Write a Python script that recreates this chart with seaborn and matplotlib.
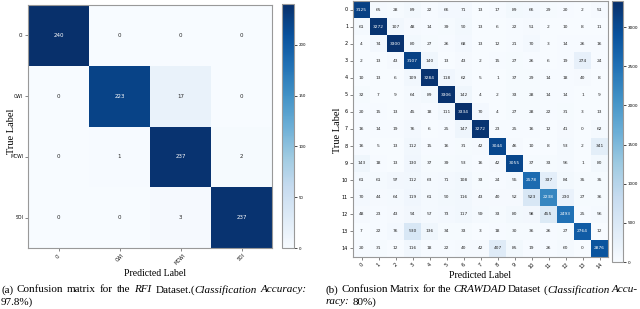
import numpy as np
import pandas as pd
import seaborn as sns
import matplotlib.pyplot as plt

# RFI dataset confusion matrix
rfi_labels = ['CI', 'CWI', 'MCWI', 'SOI']
rfi_cm = [
    [240, 0, 0, 0],
    [0, 223, 17, 0],
    [0, 1, 237, 2],
    [0, 0, 3, 237],
]

# CRAWDAD dataset confusion matrix
crawdad_labels = [str(i) for i in range(15)]
crawdad_cm = [
    [3125, 65, 28, 89, 22, 66, 71, 13, 17, 89, 66, 29, 20, 2, 51],
    [61, 3272, 107, 48, 14, 39, 90, 13, 6, 22, 51, 2, 10, 8, 11],
    [4, 74, 3300, 80, 27, 26, 68, 13, 12, 21, 70, 3, 14, 26, 16],
    [2, 13, 43, 3107, 140, 13, 43, 2, 15, 27, 26, 6, 19, 274, 24],
    [10, 13, 6, 109, 3284, 118, 62, 5, 1, 37, 29, 14, 18, 40, 8],
    [32, 7, 9, 64, 89, 3306, 142, 4, 2, 33, 28, 14, 14, 1, 9],
    [20, 15, 13, 45, 18, 111, 3334, 70, 4, 27, 28, 22, 31, 3, 13],
    [16, 14, 19, 76, 6, 25, 147, 3272, 23, 25, 16, 12, 41, 0, 62],
    [16, 5, 13, 112, 15, 16, 31, 42, 3044, 46, 10, 8, 53, 2, 341],
    [143, 18, 13, 130, 37, 39, 53, 16, 42, 3055, 37, 33, 56, 1, 80],
    [61, 61, 97, 112, 63, 71, 108, 33, 24, 55, 2578, 337, 84, 35, 35],
    [70, 44, 64, 119, 61, 90, 116, 43, 40, 52, 523, 2238, 230, 27, 36],
    [48, 23, 43, 94, 57, 73, 117, 59, 33, 80, 98, 455, 2493, 25, 56],
    [7, 22, 76, 530, 136, 34, 33, 3, 18, 30, 36, 26, 27, 2764, 12],
    [20, 31, 12, 116, 18, 22, 40, 42, 407, 85, 19, 26, 60, 0, 2876],
]

W, H = 640, 309
fig = plt.figure(figsize=(W / 100, H / 100), dpi=100)
SERIF = 'Liberation Serif'


def box(x0, y0, x1, y1):
    return [x0 / W, 1 - y1 / H, (x1 - x0) / W, (y1 - y0) / H]


def draw_cm(ax, cax, cm, labels, annot_size, tick_size, cbar_ticks):
    df = pd.DataFrame(cm, index=labels, columns=labels)
    sns.heatmap(df, ax=ax, cbar_ax=cax, cmap='Blues', annot=True, fmt='d',
                annot_kws={'size': annot_size})
    ax.tick_params(axis='both', labelsize=tick_size, length=2, width=0.5,
                   color='#555555', pad=1.5)
    ax.set_xticklabels(labels, rotation=45, fontsize=tick_size)
    ax.set_yticklabels(labels, rotation=0, fontsize=tick_size)
    for s in ax.spines.values():
        s.set_visible(True)
        s.set_color('#999999')
        s.set_linewidth(0.8)
    cbar = ax.collections[0].colorbar
    cbar.set_ticks(cbar_ticks)
    cbar.outline.set_visible(True)
    cbar.outline.set_edgecolor('#999999')
    cbar.outline.set_linewidth(0.8)
    cax.tick_params(labelsize=tick_size - 0.5, length=2, width=0.5, pad=1.5)
    ax.set_xlabel('')
    ax.set_ylabel('')


ax1 = fig.add_axes(box(28, 5, 272, 248))
cax1 = fig.add_axes(box(282, 4, 294, 248))
draw_cm(ax1, cax1, rfi_cm, rfi_labels, 4, 3.3, [0, 50, 100, 150, 200])

ax2 = fig.add_axes(box(353, 1, 608, 257))
cax2 = fig.add_axes(box(612, 1, 623, 262))
draw_cm(ax2, cax2, crawdad_cm, crawdad_labels, 3.2, 3.5,
        [0, 500, 1000, 1500, 2000, 2500, 3000])

fig.text(155 / W, 1 - 274 / H, 'Predicted Label', family=SERIF, size=7,
         ha='center', va='center')
fig.text(12 / W, 1 - 131 / H, 'True Label', family=SERIF, size=7.5,
         ha='center', va='center', rotation=90)
fig.text(480 / W, 1 - 275 / H, 'Predicted Label', family=SERIF, size=7,
         ha='center', va='center')
fig.text(338 / W, 1 - 130 / H, 'True Label', family=SERIF, size=7.5,
         ha='center', va='center', rotation=90)

renderer = fig.canvas.get_renderer()


def caption_line(words, x0, x1, y, size=8, justify=True):
    # words: list of words, each word a list of (text, italic) pieces
    placed = []
    widths = []
    for word in words:
        pieces = []
        wsum = 0
        for txt, it in word:
            t = fig.text(0, 1 - y / H, txt, family=SERIF, size=size,
                         style='italic' if it else 'normal', va='center')
            w = t.get_window_extent(renderer).width
            pieces.append((t, w))
            wsum += w
        placed.append(pieces)
        widths.append(wsum)
    sp = fig.text(0, 0, 'a a', family=SERIF, size=size)
    sp2 = fig.text(0, 0, 'aa', family=SERIF, size=size)
    space = sp.get_window_extent(renderer).width - sp2.get_window_extent(renderer).width
    sp.remove()
    sp2.remove()
    if justify and len(words) > 1:
        gap = (x1 - x0 - sum(widths)) / (len(words) - 1)
    else:
        gap = space
    x = x0
    for pieces in placed:
        for t, w in pieces:
            t.set_x(x / W)
            x += w
        x += gap


caption_line([[('(a)', False)], [('Confusion', False)], [('matrix', False)],
              [('for', False)], [('the', False)], [('RFI', True)],
              [('Dataset.(', False), ('Classification', True)],
              [('Accuracy:', True)]], 1, 307, 290)
caption_line([[('97.8%)', False)]], 1, 307, 302, justify=False)
caption_line([[('(b)', False)], [('Confusion', False)], [('Matrix', False)],
              [('for', False)], [('the', False)], [('CRAWDAD', True)],
              [('Dataset', False)], [('(', False), ('Classification', True)],
              [('Accu-', True)]], 326, 638, 290)
caption_line([[('racy:', True)], [('80%)', False)]], 326, 638, 302,
             justify=False)

fig.savefig('out.png', dpi=100)
